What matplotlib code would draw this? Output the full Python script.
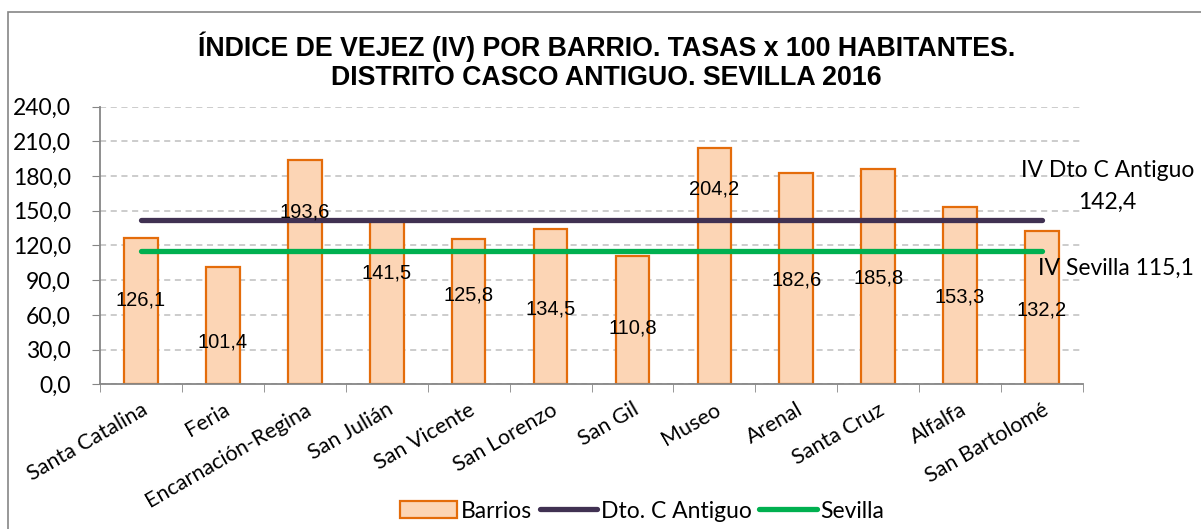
import numpy as np
import matplotlib
matplotlib.use('Agg')
import matplotlib.pyplot as plt
from matplotlib.patches import Patch, Rectangle
from matplotlib.lines import Line2D

# data
barrios = ['Santa Catalina', 'Feria', 'Encarnación-Regina', 'San Julián', 'San Vicente',
           'San Lorenzo', 'San Gil', 'Museo', 'Arenal', 'Santa Cruz', 'Alfalfa', 'San Bartolomé']
iv_barrio = [126.1, 101.4, 193.6, 141.5, 125.8, 134.5, 110.8, 204.2, 182.6, 185.8, 153.3, 132.2]
iv_distrito = 142.4
iv_sevilla = 115.1

# where Excel left each data label (y, in axis units)
label_y = [73, 36.6, 149, 96, 77, 65, 48.6, 168.6, 90, 92, 75.5, 64]

CALIBRI = 'Lato'
ARIAL = 'Liberation Sans'
BAR_FILL = '#FCD5B5'
BAR_EDGE = '#E46C0A'
DTO_COLOR = '#403152'
SEV_COLOR = '#00B050'
GRAY = '#868686'


def coma(v):
    return f'{v:.1f}'.replace('.', ',')


W, H = 1201, 529
fig = plt.figure(figsize=(W / 100, H / 100), dpi=100)
# chart area border (left + top visible)
fig.patches.append(Rectangle((8 / W, -0.1), 1.1, 1 - 12 / H + 0.1, transform=fig.transFigure,
                             fill=False, edgecolor=GRAY, lw=1.2))

ax = fig.add_axes([100 / W, 1 - 384.3 / H, 983 / W, 277.6 / H])
x = np.arange(len(barrios))

ax.bar(x, iv_barrio, width=0.41, color=BAR_FILL, edgecolor=BAR_EDGE, linewidth=1.6, zorder=2)
ax.plot(x, np.full(len(x), iv_distrito), color=DTO_COLOR, lw=3.8, solid_capstyle='round', zorder=3)
ax.plot(x, np.full(len(x), iv_sevilla), color=SEV_COLOR, lw=3.8, solid_capstyle='round', zorder=3)

for i, v in enumerate(iv_barrio):
    ax.text(i, label_y[i], coma(v), ha='center', va='center', fontsize=14.5, family=ARIAL, zorder=4)

ax.text(11.8, 184.5, 'IV Dto C Antiguo', ha='center', va='center', fontsize=16.5,
        family=CALIBRI, clip_on=False)
ax.text(11.8, 157, coma(iv_distrito), ha='center', va='center', fontsize=16.5,
        family=CALIBRI, clip_on=False)
ax.text(11.9, 100.5, 'IV Sevilla ' + coma(iv_sevilla), ha='center', va='center', fontsize=16.5,
        family=CALIBRI, clip_on=False)

ax.set_xlim(-0.5, len(x) - 0.5)
ax.set_ylim(0, 240)
yt = np.arange(0, 241, 30)
ax.set_yticks(yt, [coma(v) for v in yt], fontsize=16.5, family=CALIBRI)
ax.yaxis.grid(True, linestyle=(0, (4, 3)), color='#BFBFBF', lw=1.1, zorder=0)
ax.set_axisbelow(True)
ax.tick_params(axis='y', length=6, color=GRAY, pad=15)

ax.set_xticks(x, barrios, fontsize=15.5, family=CALIBRI, rotation=30, ha='right',
              rotation_mode='anchor')
ax.set_xticks(np.arange(-0.5, len(x)), minor=True)
ax.tick_params(axis='x', which='major', length=0, pad=11)
ax.tick_params(axis='x', which='minor', length=6, color=GRAY)

for s in ['top', 'right']:
    ax.spines[s].set_visible(False)
for s in ['left', 'bottom']:
    ax.spines[s].set_color(GRAY)
    ax.spines[s].set_linewidth(1.3)

fig.text(0.505, 1 - 47 / H, 'ÍNDICE DE VEJEZ (IV) POR BARRIO. TASAS x 100 HABITANTES.',
         ha='center', va='center', fontsize=19.3, fontweight='bold', family=ARIAL)
fig.text(0.505, 1 - 78 / H, 'DISTRITO CASCO ANTIGUO. SEVILLA 2016',
         ha='center', va='center', fontsize=19.3, fontweight='bold', family=ARIAL)

handles = [Patch(facecolor=BAR_FILL, edgecolor=BAR_EDGE, lw=1.6),
           Line2D([], [], color=DTO_COLOR, lw=3.8, solid_capstyle='round'),
           Line2D([], [], color=SEV_COLOR, lw=3.8, solid_capstyle='round')]
fig.legend(handles, ['Barrios', 'Dto. C Antiguo', 'Sevilla'], loc='center',
           bbox_to_anchor=(642 / W, 1 - 511 / H), ncol=3, frameon=False,
           prop={'family': CALIBRI, 'size': 16.5}, handlelength=2.5, handleheight=0.8,
           handletextpad=0.15, columnspacing=0.35, borderaxespad=0)

fig.savefig('out.png', dpi=100)
